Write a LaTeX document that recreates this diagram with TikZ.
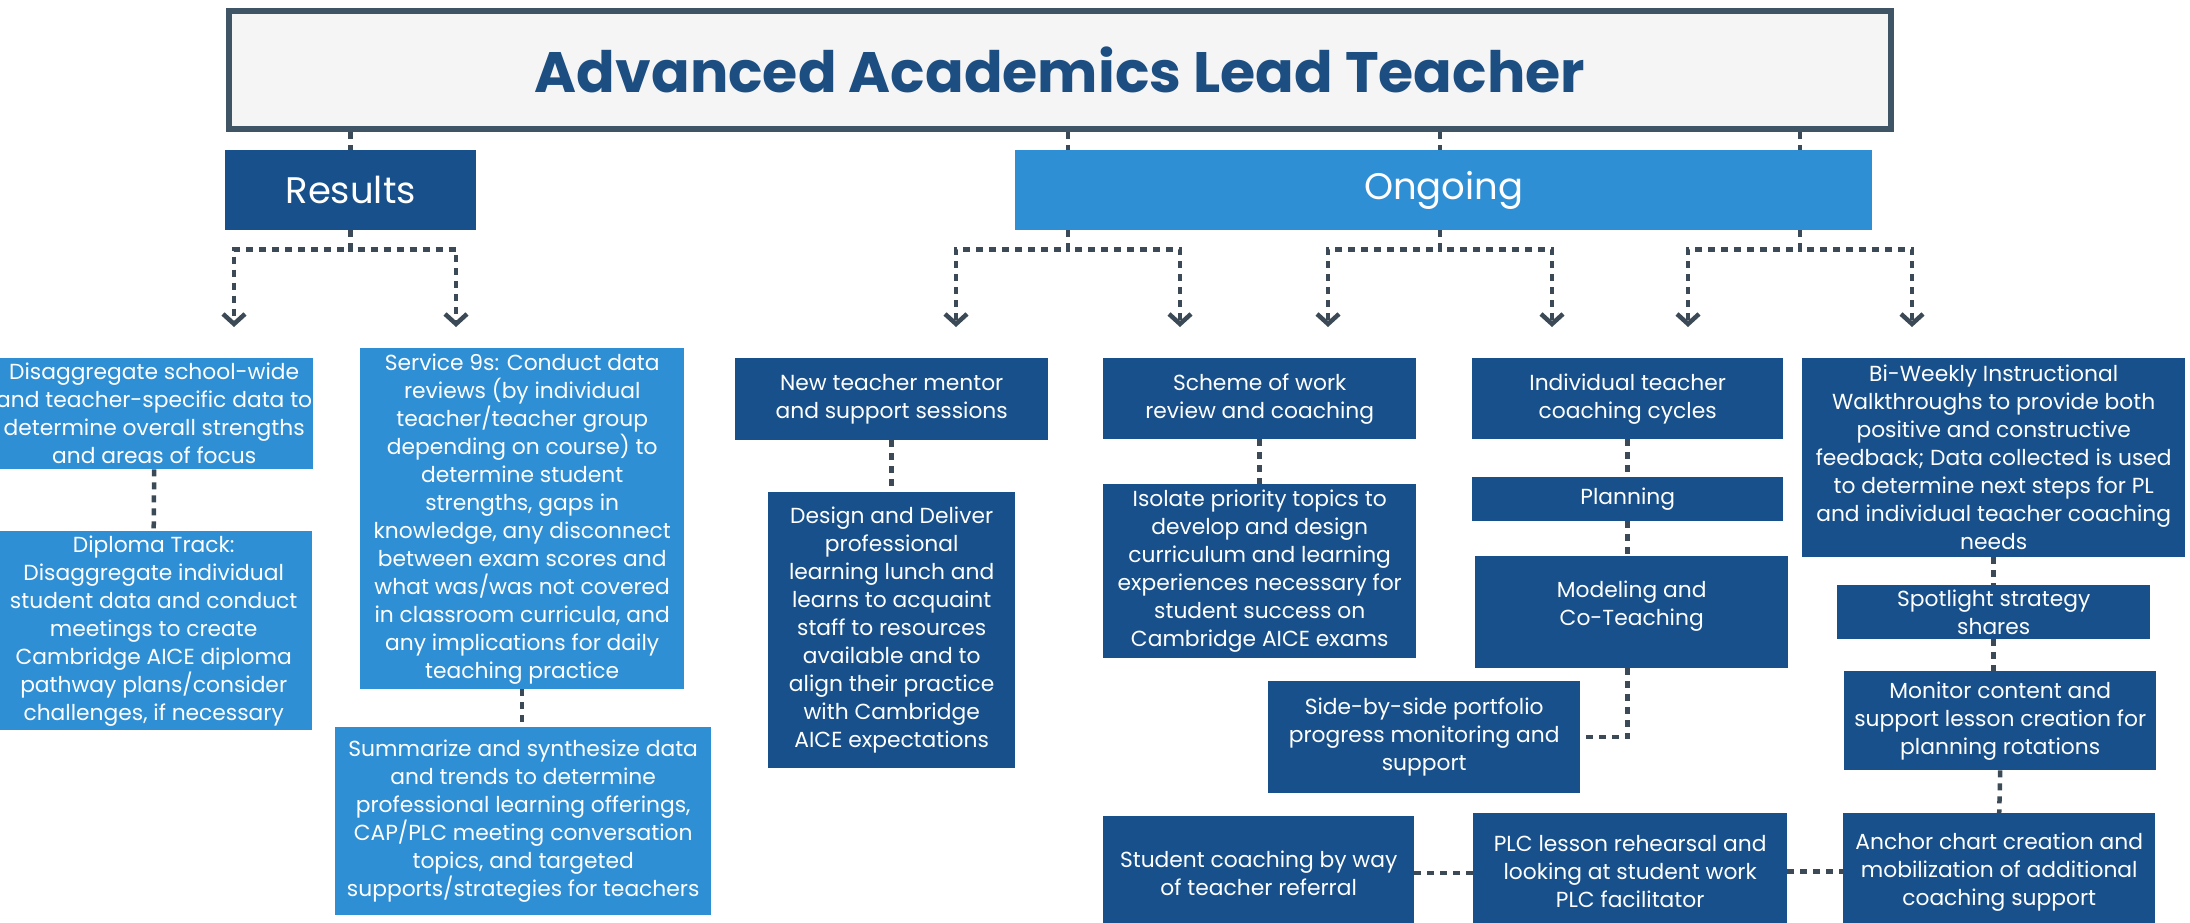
\documentclass[tikz,border=0pt]{standalone}
\usepackage{fontspec}
\setmainfont{Poppins}
\usetikzlibrary{arrows.meta}
\definecolor{aadark}{HTML}{17508A}
\definecolor{aalight}{HTML}{2F8FD5}
\definecolor{aaline}{HTML}{3B4A56}
\definecolor{aaframe}{HTML}{3F5565}
\definecolor{aatitle}{HTML}{1C4E82}
\definecolor{aapaper}{HTML}{F5F5F5}
\tikzset{
  boxnode/.style = {align=center, inner sep=1pt, anchor=north west,
    text=white, font=\fontsize{21.8}{28}\selectfont},
  box_d/.style = {boxnode, fill=aadark},
  box_l/.style = {boxnode, fill=aalight},
  link/.style = {draw=aaline, line width=4.5pt, dash pattern=on 7pt off 6pt}
}

\begin{document}
\begin{tikzpicture}[x=1pt,y=-1pt,>={Straight Barb[length=10pt,width=22pt]}]
\useasboundingbox (0,0) rectangle (2190,923);
\clip (0,0) rectangle (2190,923);
\fill[white] (0,0) rectangle (2190,923);

% head and the two groups
\node[draw=aaframe, line width=6pt, fill=aapaper, anchor=north west,
  minimum width=1662pt, minimum height=118pt, text=aatitle,
  font=\bfseries\fontsize{57}{60}\selectfont] (title) at (226,8)
  {Advanced Academics Lead Teacher};
\node[box_d, minimum width=251pt, minimum height=80pt,
  font=\fontsize{37}{40}\selectfont] (results) at (225,150) {Results};
\node[box_l, minimum width=857pt, minimum height=80pt,
  font=\fontsize{37}{40}\selectfont] (ongoing) at (1015,150) {Ongoing};

% results
\node[box_l, minimum width=317pt, minimum height=111pt] (disagg) at (-5,358)
  {Disaggregate school-wide\\ and teacher-specific data to\\ determine overall strengths\\ and areas of focus};
\node[box_l, minimum width=317pt, minimum height=199pt] (diploma) at (-5,531)
  {Diploma Track:\\ Disaggregate individual\\ student data and conduct\\ meetings to create\\ Cambridge AICE diploma\\ pathway plans/consider\\ challenges, if necessary};
\node[box_l, minimum width=324pt, minimum height=341pt] (service) at (360,348)
  {Service 9s: Conduct data\\ reviews (by individual\\ teacher/teacher group\\ depending on course) to\\ determine student\\ strengths, gaps in\\ knowledge, any disconnect\\ between exam scores and\\ what was/was not covered\\ in classroom curricula, and\\ any implications for daily\\ teaching practice};
\node[box_l, minimum width=376pt, minimum height=188pt] (summ) at (335,727)
  {Summarize and synthesize data\\ and trends to determine\\ professional learning offerings,\\ CAP/PLC meeting conversation\\ topics, and targeted\\ supports/strategies for teachers};

% ongoing
\node[box_d, minimum width=313pt, minimum height=82pt] (newt) at (735,358)
  {New teacher mentor\\ and support sessions};
\node[box_d, minimum width=247pt, minimum height=276pt] (design) at (768,492)
  {Design and Deliver\\ professional\\ learning lunch and\\ learns to acquaint\\ staff to resources\\ available and to\\ align their practice\\ with Cambridge\\ AICE expectations};
\node[box_d, minimum width=313pt, minimum height=81pt] (scheme) at (1103,358)
  {Scheme of work\\ review and coaching};
\node[box_d, minimum width=313pt, minimum height=174pt] (isolate) at (1103,484)
  {Isolate priority topics to\\ develop and design\\ curriculum and learning\\ experiences necessary for\\ student success on\\ Cambridge AICE exams};
\node[box_d, minimum width=312pt, minimum height=112pt] (side) at (1268,681)
  {Side-by-side portfolio\\ progress monitoring and\\ support};
\node[box_d, minimum width=311pt, minimum height=114pt] (student) at (1103,816)
  {Student coaching by way\\ of teacher referral};
\node[box_d, minimum width=311pt, minimum height=81pt] (indiv) at (1472,358)
  {Individual teacher\\ coaching cycles};
\node[box_d, minimum width=311pt, minimum height=44pt] (planning) at (1472,477)
  {Planning};
\node[box_d, minimum width=313pt, minimum height=112pt] (modeling) at (1475,556)
  {Modeling and\\ Co-Teaching\\[-10pt]\mbox{}};
\node[box_d, minimum width=314pt, minimum height=117pt] (plc) at (1473,813)
  {PLC lesson rehearsal and\\ looking at student work\\ PLC facilitator};
\node[box_d, minimum width=383pt, minimum height=199pt] (biweekly) at (1802,358)
  {Bi-Weekly Instructional\\ Walkthroughs to provide both\\ positive and constructive\\ feedback; Data collected is used\\ to determine next steps for PL\\ and individual teacher coaching\\ needs};
\node[box_d, minimum width=313pt, minimum height=54pt] (spotlight) at (1837,585)
  {Spotlight strategy\\ shares};
\node[box_d, minimum width=312pt, minimum height=99pt] (monitor) at (1844,671)
  {Monitor content and\\ support lesson creation for\\ planning rotations};
\node[box_d, minimum width=312pt, minimum height=117pt] (anchor) at (1843,813)
  {Anchor chart creation and\\ mobilization of additional\\ coaching support};

% forks
\coordinate (rl) at (234,327);
\coordinate (rr) at (456,327);
\draw[link] (title.south -| results.north) -- (results.north);
\draw[link,->] (results.south) -- ++(0,19) -| (rl);
\draw[link,->] (results.south) -- ++(0,19) -| (rr);
\foreach \n/\x in {oa/1068, ob/1440, oc/1800}{
  \coordinate (\n) at (\x,190);
  \coordinate (\n_l) at (\x-112,327);
  \coordinate (\n_r) at (\x+112,327);
}
\foreach \n in {oa,ob,oc}{
  \draw[link] (title.south -| \n) -- (ongoing.north -| \n);
  \draw[link,->] (ongoing.south -| \n) -- ++(0,19) -| (\n_l);
  \draw[link,->] (ongoing.south -| \n) -- ++(0,19) -| (\n_r);
}

% chains
\draw[link] (disagg.south) -- (diploma.north);
\draw[link] (service.south) -- (service.south |- summ.north);
\draw[link] (newt.south) -- (design.north);
\draw[link] (scheme.south) -- (isolate.north);
\draw[link] (indiv.south) -- (planning.north);
\draw[link] (planning.south) -- (planning.south |- modeling.north);
\draw[link] (modeling.south -| planning.south) |- (side.east);
\draw[link] (biweekly.south) -- (spotlight.north);
\draw[link] (spotlight.south) -- (spotlight.south |- monitor.north);
\draw[link] (monitor.south) -- (anchor.north);
\draw[link] (student.east) -- (student.east -| plc.west);
\draw[link] (plc.east) -- (plc.east -| anchor.west);
\end{tikzpicture}
\end{document}
